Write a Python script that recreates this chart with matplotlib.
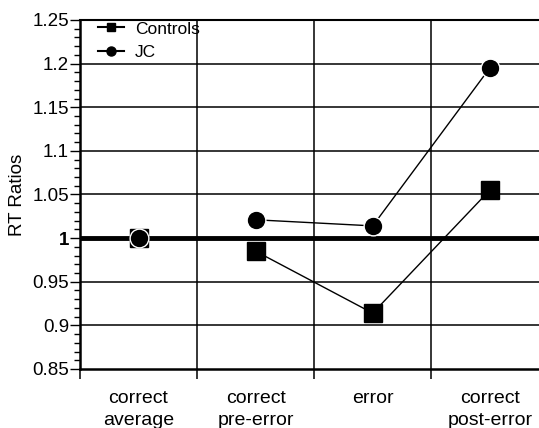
import numpy as np
import matplotlib.pyplot as plt
from matplotlib.ticker import MultipleLocator

plt.rcParams['font.family'] = ['Liberation Sans', 'DejaVu Sans']

categories = ['correct\naverage', 'correct\npre-error', 'error', 'correct\npost-error']
controls = [1.0, 0.985, 0.914, 1.055]
jc = [1.0, 1.021, 1.014, 1.195]

x = np.arange(len(categories))

fig = plt.figure(figsize=(5.39, 4.28), dpi=100)
ax = fig.add_axes([0.1484, 0.1379, 0.8516, 0.8154])

# horizontal grid
for yv in np.arange(0.90, 1.2501, 0.05):
    ax.axhline(yv, color='black', lw=1.1, zorder=1)
ax.axhline(1.0, color='black', lw=3.5, zorder=2)
for xv in [0.5, 1.5, 2.5]:
    ax.axvline(xv, color='black', lw=1.1, zorder=1)

# series (lines start at the second category)
ax.plot(x[1:], controls[1:], color='black', lw=1, zorder=3)
ax.plot(x[1:], jc[1:], color='black', lw=1, zorder=3)
ax.plot(x, controls, ls='none', marker='s', ms=12.5, mfc='black', mec='black', zorder=4)
ax.plot(x, jc, ls='none', marker='o', ms=13.5, mfc='black', mec='white', mew=1, zorder=5)

# legend
h1, = ax.plot([], [], color='black', lw=1.5, marker='s', ms=6, label='Controls')
h2, = ax.plot([], [], color='black', lw=1.5, marker='o', ms=6.5, label='JC')
ax.legend(handles=[h1, h2], loc='upper left', frameon=False, fontsize=12.5,
          handlelength=1.5, handletextpad=0.6, borderaxespad=0.0,
          labelspacing=0.5, bbox_to_anchor=(0.025, 1.016))

ax.set_xlim(-0.5, 3.42)
ax.set_ylim(0.85, 1.25)

ax.yaxis.set_major_locator(MultipleLocator(0.05))
ax.yaxis.set_minor_locator(MultipleLocator(0.01))
ax.set_yticks(np.arange(0.85, 1.2501, 0.05))
ax.set_yticklabels(['0.85', '0.9', '0.95', '1', '1.05', '1.1', '1.15', '1.2', '1.25'])
for lab in ax.get_yticklabels():
    if lab.get_text() == '1':
        lab.set_fontweight('bold')
ax.tick_params(axis='y', which='major', length=7, width=1, labelsize=13.5, pad=1)
ax.tick_params(axis='y', which='minor', length=4, width=1)

ax.set_xticks(x)
ax.set_xticklabels(categories, linespacing=1.4)
ax.set_xticks([-0.5, 0.5, 1.5, 2.5], minor=True)
ax.tick_params(axis='x', which='major', length=0, labelsize=14, pad=15)
ax.tick_params(axis='x', which='minor', length=7, width=1.1)

ax.set_ylabel('RT Ratios', fontsize=13.5)
ax.yaxis.set_label_coords(-0.118, 0.5)

ax.spines['right'].set_visible(False)
ax.spines['top'].set_linewidth(1.5)
ax.spines['left'].set_linewidth(1.8)
ax.spines['bottom'].set_linewidth(1.8)

fig.savefig('out.png', dpi=100)
